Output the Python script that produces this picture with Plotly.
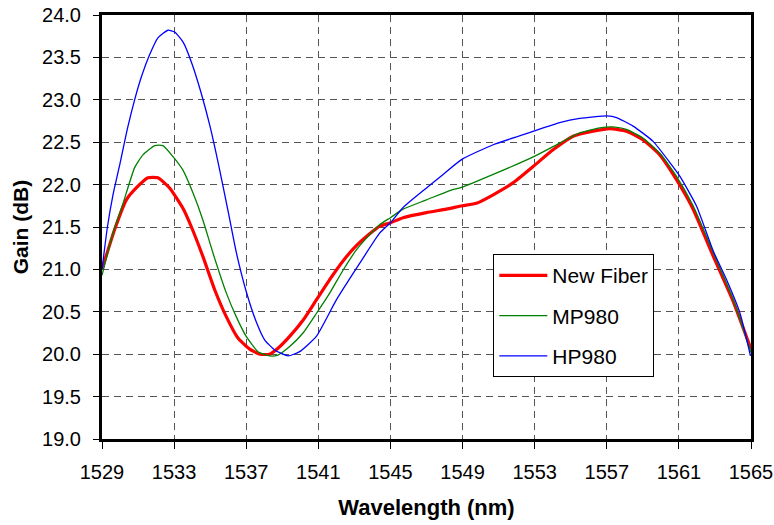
import plotly.graph_objects as go

# ---- data ----
new_fiber_wl = [1529.0, 1529.7, 1530.35, 1530.9, 1531.55, 1532.1, 1532.75, 1533.49, 1533.96, 1534.6,
                1535.25, 1535.9, 1536.54, 1537.19, 1537.75, 1538.3, 1538.76, 1539.41, 1540.15, 1540.89,
                1541.63, 1542.37, 1543.11, 1543.85, 1544.41, 1545.0, 1545.7, 1547.0, 1548.1, 1548.98,
                1549.77, 1550.7, 1551.8, 1552.95, 1554.02, 1555.13, 1556.24, 1557.17, 1558.09, 1559.0,
                1559.94, 1560.86, 1561.79, 1562.9, 1564.0, 1565.0]
new_fiber_gain = [21.0, 21.47, 21.82, 21.96, 22.08, 22.08, 21.96, 21.72, 21.5, 21.15,
                  20.76, 20.44, 20.19, 20.06, 20.0, 20.0, 20.07, 20.21, 20.4, 20.64,
                  20.88, 21.1, 21.28, 21.42, 21.51, 21.55, 21.61, 21.67, 21.71, 21.75,
                  21.78, 21.88, 22.02, 22.22, 22.41, 22.57, 22.63, 22.66, 22.63, 22.53,
                  22.35, 22.06, 21.71, 21.16, 20.63, 20.06]

mp980_wl = [1529.0, 1529.61, 1530.17, 1530.81, 1531.27, 1531.92, 1532.38, 1532.94, 1533.49, 1534.05,
            1534.6, 1535.16, 1535.9, 1536.45, 1537.0, 1537.65, 1538.3, 1538.76, 1539.41, 1540.15,
            1540.89, 1541.63, 1542.37, 1543.11, 1543.85, 1544.41, 1545.0, 1545.7, 1547.0, 1548.29,
            1548.98, 1550.7, 1552.95, 1554.39, 1555.5, 1556.61, 1557.35, 1558.09, 1559.0, 1559.94,
            1560.86, 1561.79, 1562.9, 1564.0, 1565.0]
mp980_gain = [20.93, 21.43, 21.78, 22.2, 22.35, 22.46, 22.46, 22.33, 22.17, 21.9,
              21.58, 21.19, 20.72, 20.44, 20.21, 20.03, 19.98, 19.99, 20.09, 20.25,
              20.48, 20.72, 20.99, 21.23, 21.41, 21.53, 21.61, 21.71, 21.82, 21.93,
              21.97, 22.12, 22.33, 22.49, 22.61, 22.67, 22.68, 22.65, 22.55, 22.37,
              22.1, 21.75, 21.2, 20.65, 20.02]

hp980_wl = [1529.0, 1529.3, 1529.61, 1530.0, 1530.4, 1530.81, 1531.2, 1531.64, 1532.1, 1532.66,
            1533.03, 1533.5, 1534.0, 1534.5, 1535.0, 1535.5, 1536.0, 1536.45, 1537.0, 1537.56,
            1538.02, 1538.58, 1539.32, 1539.96, 1540.89, 1542.0, 1543.29, 1544.41, 1545.0, 1545.7,
            1547.0, 1547.92, 1548.98, 1550.7, 1552.95, 1554.39, 1555.5, 1557.02, 1557.54, 1558.46,
            1559.57, 1560.5, 1561.05, 1561.97, 1562.9, 1563.64, 1564.38, 1564.97]
hp980_gain = [21.0, 21.5, 21.88, 22.25, 22.65, 23.0, 23.28, 23.53, 23.73, 23.82,
              23.8, 23.68, 23.42, 23.08, 22.68, 22.2, 21.68, 21.2, 20.74, 20.38,
              20.17, 20.05, 19.98, 20.03, 20.21, 20.64, 21.07, 21.43, 21.55, 21.73,
              21.96, 22.12, 22.3, 22.47, 22.63, 22.73, 22.78, 22.81, 22.79, 22.69,
              22.51, 22.26, 22.1, 21.75, 21.22, 20.88, 20.49, 19.98]

x_ticks = [1529, 1533, 1537, 1541, 1545, 1549, 1553, 1557, 1561, 1565]
y_ticks = [19.0, 19.5, 20.0, 20.5, 21.0, 21.5, 22.0, 22.5, 23.0, 23.5, 24.0]

FONT = "Liberation Sans, Arial, sans-serif"
SMOOTH = 0.5

fig = go.Figure()
fig.add_trace(go.Scatter(x=new_fiber_wl, y=new_fiber_gain, mode="lines", name="New Fiber",
                         legendgroup="a", line=dict(color="#FF0000", width=3.2, shape="spline", smoothing=SMOOTH)))
fig.add_trace(go.Scatter(x=mp980_wl, y=mp980_gain, mode="lines", name="MP980",
                         legendgroup="b", line=dict(color="#008000", width=1.3, shape="spline", smoothing=SMOOTH)))
fig.add_trace(go.Scatter(x=hp980_wl, y=hp980_gain, mode="lines", name="HP980",
                         legendgroup="c", line=dict(color="#0000FF", width=1.3, shape="spline", smoothing=SMOOTH)))

fig.update_layout(
    width=774, height=525,
    margin=dict(l=102, r=23, t=15, b=86),
    paper_bgcolor="white", plot_bgcolor="white",
    font=dict(family=FONT, color="black", size=20),
    showlegend=True,
    legend=dict(x=0.603, y=0.436, xanchor="left", yanchor="top",
                bgcolor="white", bordercolor="black", borderwidth=1,
                font=dict(size=21, family=FONT), tracegroupgap=10,
                traceorder="grouped", itemwidth=48),
)
fig.update_xaxes(
    range=[1529, 1565], tickvals=x_ticks, ticktext=[str(v) for v in x_ticks],
    showgrid=True, gridcolor="#555555", gridwidth=1, griddash="7px,5px",
    showline=True, linecolor="black", linewidth=3, mirror=True,
    ticks="outside", ticklen=7, tickcolor="black", tickwidth=1,
    ticklabelstandoff=6, automargin=False, ticklabeloverflow="allow",
    zeroline=False, tickfont=dict(size=20),
    title=dict(text="<b>Wavelength (nm)</b>", font=dict(size=22, family=FONT), standoff=18),
)
fig.update_yaxes(
    range=[19, 24], tickvals=y_ticks, ticktext=[f"{v:.1f}" for v in y_ticks],
    showgrid=True, gridcolor="#555555", gridwidth=1, griddash="7px,5px",
    showline=True, linecolor="black", linewidth=3, mirror=True,
    ticks="outside", ticklen=6, tickcolor="black", tickwidth=1,
    ticklabelstandoff=8, automargin=False, ticklabeloverflow="allow",
    zeroline=False, tickfont=dict(size=20),
    title=dict(text="<b>Gain (dB)</b>", font=dict(size=21, family=FONT), standoff=8),
)

# remove the browser's default 8px body margin so the figure fills the window exactly
fig.write_html(
    "out.html",
    config={"displayModeBar": False},
    post_script="document.body.style.margin='0';document.body.style.overflow='hidden';",
)
